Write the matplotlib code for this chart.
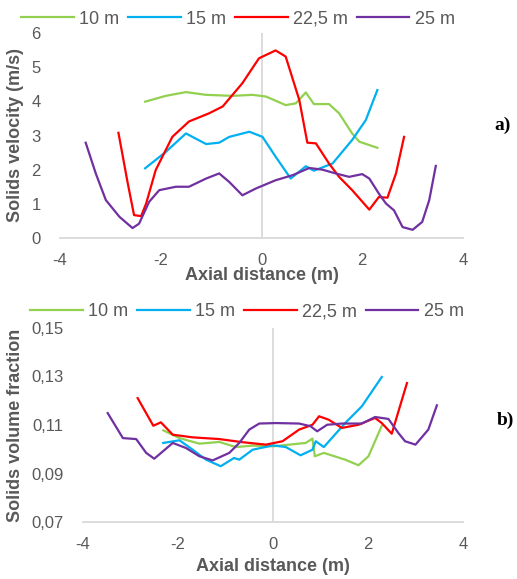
import matplotlib
matplotlib.use("Agg")
import matplotlib.pyplot as plt

plt.rcParams['font.family'] = ['Liberation Sans', 'DejaVu Sans']
plt.rcParams['axes.unicode_minus'] = False

gray = '#595959'
grid_gray = '#D9D9D9'
series_names = ['10 m', '15 m', '22,5 m', '25 m']
series_colors = ['#92D050', '#00B0F0', '#FF0000', '#7030A0']

# ---- a) solids velocity (m/s) vs axial distance (m)
vel_x_10 = [-2.31, -1.9, -1.5, -1.1, -0.58, -0.18, 0.09, 0.48, 0.68, 0.88, 1.04, 1.34, 1.54, 1.8, 1.94, 2.3]
vel_y_10 = [3.99, 4.16, 4.27, 4.19, 4.16, 4.19, 4.14, 3.89, 3.94, 4.26, 3.92, 3.92, 3.65, 3.06, 2.82, 2.64]
vel_x_15 = [-2.31, -1.9, -1.5, -1.1, -0.84, -0.64, -0.24, 0.02, 0.28, 0.58, 0.88, 1.04, 1.41, 1.8, 2.07, 2.3]
vel_y_15 = [2.04, 2.52, 3.06, 2.75, 2.79, 2.96, 3.11, 2.96, 2.38, 1.74, 2.1, 1.97, 2.18, 2.87, 3.45, 4.33]
vel_x_22 = [-2.84, -2.66, -2.53, -2.39, -2.29, -2.1, -1.77, -1.44, -1.04, -0.77, -0.38, -0.05, 0.28, 0.48,
            0.75, 0.91, 1.08, 1.34, 1.54, 1.8, 2.14, 2.33, 2.5, 2.67, 2.83]
vel_y_22 = [3.08, 1.64, 0.67, 0.64, 1.01, 1.99, 2.96, 3.41, 3.65, 3.85, 4.53, 5.26, 5.49, 5.31,
            4.04, 2.79, 2.77, 2.18, 1.79, 1.4, 0.83, 1.2, 1.18, 1.89, 2.96]
vel_x_25 = [-3.49, -3.29, -3.09, -2.82, -2.56, -2.43, -2.23, -2.03, -1.7, -1.44, -1.1, -0.84, -0.64, -0.38,
            -0.11, 0.28, 0.62, 0.95, 1.21, 1.47, 1.74, 2.0, 2.14, 2.33, 2.47, 2.63, 2.8, 3.0, 3.19, 3.33, 3.46]
vel_y_25 = [2.79, 1.89, 1.11, 0.62, 0.29, 0.42, 1.06, 1.4, 1.5, 1.5, 1.74, 1.89, 1.64, 1.25,
            1.45, 1.69, 1.84, 2.05, 2.0, 1.89, 1.79, 1.87, 1.74, 1.3, 1.01, 0.81, 0.32, 0.24, 0.47, 1.11, 2.11]

# ---- b) solids volume fraction vs axial distance (m)
vf_x_10 = [-2.31, -1.97, -1.55, -1.13, -0.78, -0.43, 0.0, 0.34, 0.69, 0.83, 0.88, 1.07, 1.52, 1.8, 2.01, 2.29]
vf_y_10 = [0.1078, 0.1046, 0.1023, 0.1030, 0.1009, 0.1015, 0.1012, 0.1019, 0.1026, 0.1044, 0.0971, 0.0985,
           0.0957, 0.0934, 0.0971, 0.1097]
vf_x_15 = [-2.31, -1.97, -1.69, -1.41, -1.1, -0.82, -0.71, -0.43, 0.0, 0.27, 0.58, 0.83, 0.9, 1.07, 1.52, 1.87, 2.29]
vf_y_15 = [0.1026, 0.1037, 0.0998, 0.0957, 0.0930, 0.0964, 0.0957, 0.0998, 0.1016, 0.1009, 0.0975, 0.0998,
           0.1033, 0.1009, 0.1108, 0.1177, 0.1298]
vf_x_22 = [-2.85, -2.52, -2.36, -2.11, -1.69, -1.13, -0.64, -0.15, 0.2, 0.55, 0.83, 0.97, 1.17, 1.45, 1.8,
           2.15, 2.29, 2.5, 2.82]
vf_y_22 = [0.1211, 0.1097, 0.1111, 0.1060, 0.1049, 0.1042, 0.1029, 0.1019, 0.1033, 0.1081, 0.1101, 0.1136,
           0.1122, 0.1088, 0.1101, 0.1129, 0.1108, 0.1064, 0.1273]
vf_x_25 = [-3.48, -3.16, -2.88, -2.67, -2.5, -2.32, -2.11, -1.83, -1.55, -1.27, -0.92, -0.71, -0.5, -0.29,
           0.06, 0.55, 0.79, 0.93, 1.14, 1.45, 1.87, 2.15, 2.43, 2.64, 2.78, 3.0, 3.27, 3.45]
vf_y_25 = [0.1149, 0.1046, 0.1042, 0.0985, 0.0961, 0.0991, 0.1026, 0.1005, 0.0971, 0.0954, 0.0985, 0.1026,
           0.1081, 0.1106, 0.1108, 0.1106, 0.1095, 0.1074, 0.1101, 0.1106, 0.1106, 0.1133, 0.1125, 0.1067,
           0.1033, 0.1019, 0.1081, 0.1181]

x_ticks = [-4, -2, 0, 2, 4]
vel_ticks = [0, 1, 2, 3, 4, 5, 6]
vf_ticks = [0.07, 0.09, 0.11, 0.13, 0.15]
vf_tick_labels = ['0,07', '0,09', '0,11', '0,13', '0,15']

fig = plt.figure(figsize=(5.17, 5.79), dpi=100)
ax1 = fig.add_axes([60 / 517, 1 - 238 / 579, 403 / 517, 205 / 579])
ax2 = fig.add_axes([83 / 517, 1 - 522 / 579, 380 / 517, 194 / 579])


def style_axes(ax, ylabel, ylabel_x, xlabel_y):
    for s in ax.spines.values():
        s.set_visible(False)
    ax.spines['bottom'].set_visible(True)
    ax.spines['bottom'].set_color(grid_gray)
    ax.spines['bottom'].set_linewidth(1.3)
    ax.axvline(0, color=grid_gray, lw=1.3, zorder=0)
    ax.set_xlim(-4, 4)
    ax.set_xticks(x_ticks)
    ax.tick_params(length=0, labelsize=12, labelcolor=gray)
    ax.tick_params(axis='x', pad=11)
    ax.tick_params(axis='y', pad=14)
    ax.set_xlabel('Axial distance (m)', fontsize=13, fontweight='bold', color=gray)
    ax.set_ylabel(ylabel, fontsize=13, fontweight='bold', color=gray)
    ax.yaxis.set_label_coords(ylabel_x, 0.5)
    ax.xaxis.set_label_coords(0.5, xlabel_y)


# top chart
for xs, ys, name, c in zip([vel_x_10, vel_x_15, vel_x_22, vel_x_25],
                           [vel_y_10, vel_y_15, vel_y_22, vel_y_25], series_names, series_colors):
    ax1.plot(xs, ys, color=c, lw=1.6, label=name, solid_joinstyle='round')
ax1.set_ylim(0, 6)
ax1.set_yticks(vel_ticks)
style_axes(ax1, 'Solids velocity (m/s)', -0.089, -0.141)
ax1.legend(loc='center', bbox_to_anchor=(238 / 517, 1 - 19 / 579), bbox_transform=fig.transFigure,
           ncol=4, frameon=False, fontsize=13, handlelength=2.9, columnspacing=0.5, handletextpad=0.3,
           labelcolor=gray, borderpad=0)

# bottom chart
for xs, ys, name, c in zip([vf_x_10, vf_x_15, vf_x_22, vf_x_25],
                           [vf_y_10, vf_y_15, vf_y_22, vf_y_25], series_names, series_colors):
    ax2.plot(xs, ys, color=c, lw=1.6, label=name, solid_joinstyle='round')
ax2.set_ylim(0.07, 0.15)
ax2.set_yticks(vf_ticks)
ax2.set_yticklabels(vf_tick_labels)
style_axes(ax2, 'Solids volume fraction', -0.155, -0.186)
ax2.legend(loc='center', bbox_to_anchor=(247 / 517, 1 - 312 / 579), bbox_transform=fig.transFigure,
           ncol=4, frameon=False, fontsize=13, handlelength=2.9, columnspacing=0.5, handletextpad=0.3,
           labelcolor=gray, borderpad=0)

fig.text(494 / 517, 1 - 125 / 579, 'a)', fontsize=14, fontweight='bold', family='Liberation Serif',
         va='center', ha='left')
fig.text(497 / 517, 1 - 420 / 579, 'b)', fontsize=14, fontweight='bold', family='Liberation Serif',
         va='center', ha='left')

fig.savefig('out.png', dpi=100)
